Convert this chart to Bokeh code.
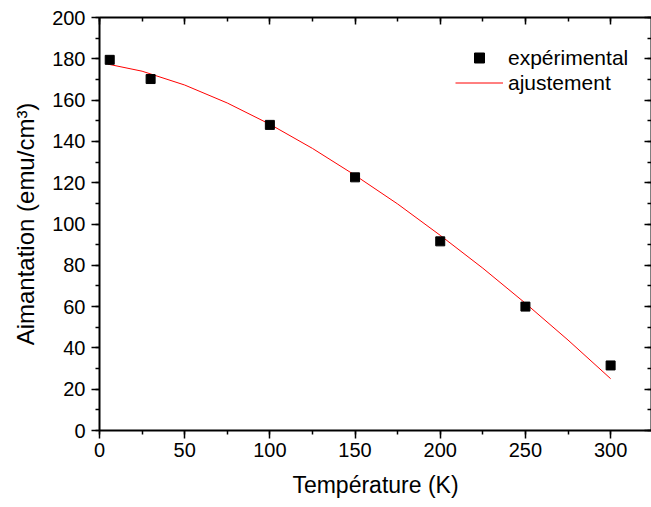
from bokeh.plotting import figure
from bokeh.models import (Range1d, LinearAxis, SingleIntervalTicker, Legend, LegendItem,
                          CustomLabelingPolicy)
from bokeh.embed import file_html
from bokeh.resources import INLINE

# Experimental data
T_exp = [6, 30, 100, 150, 200, 250, 300]
M_exp = [179.5, 170.2, 148.0, 122.6, 91.6, 60.0, 31.5]

# Fitted curve
T_fit = [5, 25, 50, 75, 100, 125, 150, 175, 200, 225, 250, 275, 300]
M_fit = [177.4, 174.0, 167.3, 158.6, 148.3, 136.6, 123.6, 109.7, 94.5, 78.6, 61.6, 43.8, 25.1]

x_ticks_interval = 50
y_ticks_interval = 20

FONT = "Liberation Sans"

p = figure(width=651, height=507, output_backend="svg", toolbar_location=None,
           x_range=Range1d(0, 324), y_range=Range1d(0, 200),
           min_border_left=99, min_border_right=0, min_border_top=17, min_border_bottom=77)
p.outline_line_color = None
p.xgrid.visible = False
p.ygrid.visible = False

fit_r = p.line(T_fit, M_fit, line_color="#ff0000", line_width=1)
exp_r = p.scatter(T_exp, M_exp, marker="square", size=9, fill_color="black", line_color="black")

def style(ax, labels=True):
    ax.axis_line_width = 2
    ax.major_tick_line_width = 1.5
    ax.minor_tick_line_width = 1.5
    ax.axis_line_color = "black"
    ax.major_tick_line_color = "black"
    ax.minor_tick_line_color = "black"
    if labels:
        ax.major_label_text_font = FONT
        ax.major_label_text_font_size = "20px"
        ax.major_label_text_color = "black"
        ax.axis_label_text_font = FONT
        ax.axis_label_text_font_style = "normal"
        ax.axis_label_text_color = "black"

xa = p.xaxis[0]
xa.ticker = SingleIntervalTicker(interval=x_ticks_interval, num_minor_ticks=2)
style(xa)
xa.axis_label = "Température (K)"
xa.axis_label_text_font_size = "23px"
xa.major_tick_in = 0
xa.major_tick_out = 8
xa.minor_tick_in = 0
xa.minor_tick_out = 4
xa.major_label_standoff = 4
xa.axis_label_standoff = 12

ya = p.yaxis[0]
ya.ticker = SingleIntervalTicker(interval=y_ticks_interval, num_minor_ticks=2)
style(ya)
ya.axis_label = "Aimantation (emu/cm³)"
ya.axis_label_text_font_size = "24px"
ya.major_tick_in = 0
ya.major_tick_out = 8
ya.minor_tick_in = 0
ya.minor_tick_out = 4
ya.major_label_standoff = 6
ya.axis_label_standoff = 10

hide_all = CustomLabelingPolicy(code="""
    const all = [...indices]
    for (const i of all) indices.unset(i)
    return indices
""")

def mirror_axis(interval):
    ax = LinearAxis(ticker=SingleIntervalTicker(interval=interval, num_minor_ticks=2))
    style(ax, labels=False)
    ax.major_label_policy = hide_all
    ax.major_label_text_font_size = "0px"
    ax.major_label_standoff = 0
    ax.axis_label_standoff = 0
    ax.major_tick_in = 7
    ax.major_tick_out = 0
    ax.minor_tick_in = 4
    ax.minor_tick_out = 0
    return ax

p.add_layout(mirror_axis(x_ticks_interval), "above")
p.add_layout(mirror_axis(y_ticks_interval), "right")

legend = Legend(items=[LegendItem(label="expérimental", renderers=[exp_r]),
                       LegendItem(label="ajustement", renderers=[fit_r])],
                location=(356, 335))
legend.border_line_color = None
legend.background_fill_alpha = 0
legend.padding = 0
legend.margin = 0
legend.spacing = 0
legend.glyph_width = 48
legend.glyph_height = 25
legend.label_height = 25
legend.label_standoff = 5
legend.label_text_font = FONT
legend.label_text_font_size = "21px"
legend.label_text_color = "black"
p.add_layout(legend, "center")

open("out.html", "w").write(file_html(p, INLINE))
